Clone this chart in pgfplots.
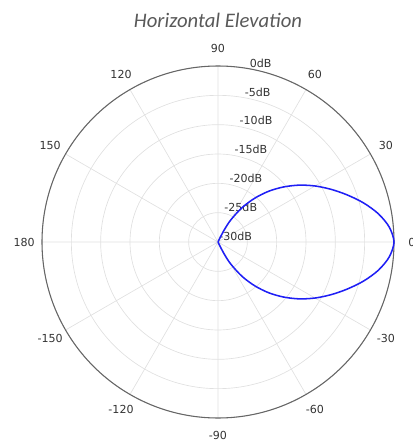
\documentclass[border=0pt]{standalone}
\usepackage{pgfplots}
\pgfplotsset{compat=1.18}
\usepgfplotslibrary{polar}
\usepackage{fontspec}
\setmainfont{DejaVu Sans}
\newfontfamily\titlefont{Carlito}
\definecolor{titlegray}{HTML}{595959}
\definecolor{labelgray}{HTML}{333333}
\definecolor{patternblue}{HTML}{1F1FF5}

\begin{document}
\begin{tikzpicture}[x=1pt,y=1pt]
% fixed page frame around the polar grid (origin = pole)
\useasboundingbox (-163.5,-153) rectangle (146.25,181.5);
\begin{polaraxis}[
  at={(0,0)}, anchor=center,
  scale only axis, width=264pt, height=264pt,
  ymin=0, ymax=30,
  xtick={0,30,...,330},
  ytick={0,5,...,30},
  xticklabels={}, yticklabels={},
  major tick length=0pt,
  grid=major,
  major grid style={draw=black!12, line width=0.5pt},
  x axis line style={draw=black!60, line width=0.8pt},
  y axis line style={draw=none},
  clip=false,
  font=\fontsize{8.3}{10}\selectfont,
]
% angular labels
\foreach \a/\t in {0/0,30/30,60/60,90/90,120/120,150/150,180/180,210/-150,240/-120,270/-90,300/-60,330/-30}{
  \edef\tmp{\noexpand\node[text=labelgray, anchor=center, inner sep=0pt] at (axis cs:\a,33.05) {\t};}
  \tmp
}
% radial level labels
\foreach \r/\t in {30/0dB,25/-5dB,20/-10dB,15/-15dB,10/-20dB,5/-25dB,0/-30dB}{
  \edef\tmp{\noexpand\node[text=labelgray, anchor=south west, inner sep=0.8pt] at (axis cs:80,\r) {\t};}
  \tmp
}
% horizontal-plane radiation pattern (radius = level + 30 dB)
\addplot[patternblue, line width=1.15pt, smooth, tension=0.5] coordinates {
  (-65.5,0) (-63,2.1) (-60,4.3) (-55,7.15) (-50,9.75) (-45,12.25) (-40,14.6)
  (-35,16.9) (-30,19.1) (-25,21.25) (-20,23.45) (-15,25.7) (-10,27.75)
  (-5,29.3) (0,30) (5,29.3) (10,27.75) (15,25.7) (20,23.45) (25,21.25)
  (30,19.1) (35,16.9) (40,14.6) (45,12.25) (50,9.75) (55,7.15) (60,4.3)
  (63,2.1) (65.5,0)
};
\end{polaraxis}
\node[anchor=base, text=titlegray, font=\titlefont\itshape\fontsize{15.5}{18}\selectfont] at (0,160.7) {Horizontal Elevation};
\end{tikzpicture}
\end{document}
